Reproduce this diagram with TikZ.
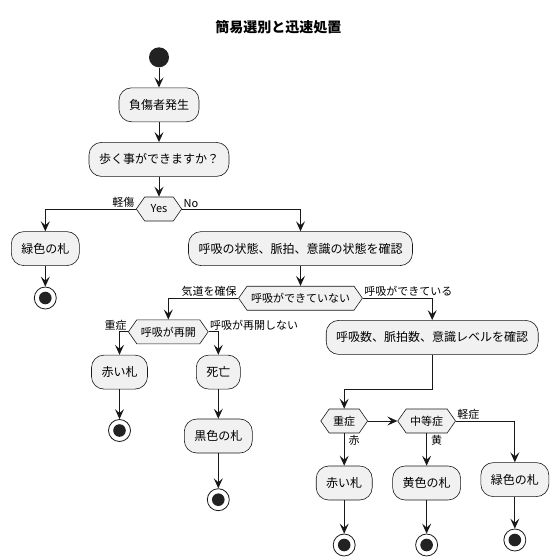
\documentclass[tikz,border=0pt]{standalone}
\usepackage{fontspec}
\setmainfont{Noto Sans CJK JP}
\usetikzlibrary{positioning, arrows.meta, shapes.symbols}
\definecolor{umlline}{HTML}{181818}
\definecolor{umlfill}{HTML}{F1F1F1}
\definecolor{umldot}{HTML}{222222}
\tikzset{
  x=1pt, y=-1pt,
  >={Stealth[length=10pt, width=9pt, inset=4pt]},
  action/.style={draw=umlline, fill=umlfill, line width=0.6pt, rounded corners=12.5pt,
    minimum height=34pt, inner xsep=10pt, font=\fontsize{12}{14}\selectfont},
  choice/.style={signal, signal to=east and west, signal pointer angle=110,
    draw=umlline, fill=umlfill, line width=0.6pt, minimum height=24pt,
    inner xsep=4pt, font=\fontsize{11}{13}\selectfont},
  startdot/.style={circle, fill=umldot, minimum size=20pt, inner sep=0pt},
  enddot/.style={circle, draw=umlline, fill=white, line width=0.8pt, minimum size=22pt,
    inner sep=0pt, path picture={\fill[umldot] (path picture bounding box.center) circle (6.3pt);}},
  flow/.style={->, draw=umlline, line width=1pt},
  elbow/.style={to path={-| (\tikztotarget) \tikztonodes}},
  lbl/.style={font=\fontsize{11}{13}\selectfont, inner sep=1pt},
}

\begin{document}
\begin{tikzpicture}
      \useasboundingbox (0,0) rectangle (558,560);
      \node[font=\fontsize{14}{16}\selectfont\bfseries] (ttl) at (278.3,27.5) {簡易選別と迅速処置};

      \node[startdot]                                  (s0) at (159,57.3) {};
      \node[action, below=20pt of s0]                  (b1) {負傷者発生};
      \node[action, below=20pt of b1]                  (b2) {歩く事ができますか？};
      \node[choice, below=20pt of b2, inner xsep=6pt]  (d1) {Yes};
      \node[action, below=10pt of d1, xshift=-113.7pt] (g1) {緑色の札};
      \node[enddot, below=20.7pt of g1]                (f1) {};
      \node[action, below=10pt of d1, xshift=141.5pt]  (b3) {呼吸の状態、脈拍、意識の状態を確認};
      \node[choice, below=20pt of b3]                  (d2) {呼吸ができていない};
      \node[choice, below=9pt of d2, xshift=-132.2pt]  (d3) {呼吸が再開};
      \node[action, below=9.6pt of d2, xshift=131.7pt] (b4) {呼吸数、脈拍数、意識レベルを確認};
      \node[action, below=10.7pt of d3, xshift=-48.8pt] (r1) {赤い札};
      \node[action, below=10.7pt of d3, xshift=50pt]   (k1) {死亡};
      \node[enddot, below=29.7pt of r1]                (f2) {};
      \node[action, below=29.3pt of k1]                (k2) {黒色の札};
      \node[enddot, below=35pt of k2]                  (f3) {};
      \node[choice, below=54pt of b4, xshift=-88pt]    (d4) {重症};
      \node[choice, right=29.4pt of d4]                (d5) {中等症};
      \node[action, below=32.4pt of d4]                (r2) {赤い札};
      \node[action, below=32.4pt of d5]                (y1) {黄色の札};
      \node[action, below=29pt of d5, xshift=88.2pt]   (g2) {緑色の札};
      \node[enddot, below=33.3pt of r2]                (f4) {};
      \node[enddot, below=33.3pt of y1]                (f5) {};
      \node[enddot, below=31.7pt of g2]                (f6) {};

      \path[every edge/.style={flow}]
            (s0) edge (b1)
            (b1) edge (b2)
            (b2) edge (d1.north)
            (d1.west) edge[elbow] node[lbl, pos=0, above left]  {軽傷} (g1.north)
            (d1.east) edge[elbow] node[lbl, pos=0, above right] {No} (b3.north)
            (g1) edge (f1)
            (b3) edge (d2.north)
            (d2.west) edge[elbow] node[lbl, pos=0, above left]  {気道を確保} (d3.north)
            (d2.east) edge[elbow] node[lbl, pos=0, above right] {呼吸ができている} (b4.north)
            (d3.west) edge[elbow] node[lbl, pos=0, above left]  {重症} (r1.north)
            (d3.east) edge[elbow] node[lbl, pos=0, above right] {呼吸が再開しない} (k1.north)
            (r1) edge (f2)
            (k1) edge (k2)
            (k2) edge (f3)
            (d4.east) edge (d5.west)
            (d4.south) edge node[lbl, pos=0, below right, xshift=3pt] {赤} (r2.north)
            (d5.south) edge node[lbl, pos=0, below right, xshift=3pt] {黄} (y1.north)
            (d5.east) edge[elbow] node[lbl, pos=0, above right] {軽症} (g2.north)
            (r2) edge (f4)
            (y1) edge (f5)
            (g2) edge (f6);
      \draw[flow] (b4.south) -- ++(0,34.3) -| (d4.north);
    \end{tikzpicture}
\end{document}
